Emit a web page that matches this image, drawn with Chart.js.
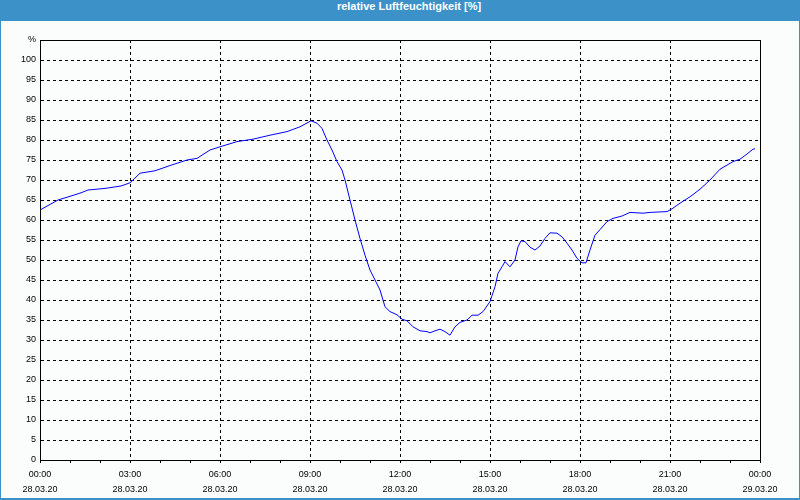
<!DOCTYPE html>
<html>
<head>
<meta charset="utf-8">
<script src="https://cdn.jsdelivr.net/npm/chart.js@4"></script>
<style>
  body { margin: 0; background: #fff; }
  #frame {
    position: relative; width: 800px; height: 500px; box-sizing: border-box;
    border: 1px solid #3c91c8; border-top: none; border-bottom-width: 2px;
    background: #fbfdfc; overflow: hidden;
  }
  #titel {
    height: 21px; line-height: 20px; background: #3c91c8; color: #fff;
    font: bold 11px "Liberation Sans", Arial, sans-serif; text-align: center;
    padding-left: 18px;
  }
  #wrap { position: absolute; left: 0; top: 21px; width: 798px; height: 477px; }
</style>
</head>
<body>
<div id="frame">
  <div id="titel">relative Luftfeuchtigkeit [%]</div>
  <div id="wrap"><canvas id="feuchteChart" width="798" height="477"></canvas></div>
</div>
<script>
// Minuten seit 28.03.20 00:00
const minuten = [0, 36, 62, 82, 96, 130, 162, 180, 186, 200, 230, 262, 294, 314, 340, 360, 394, 426, 460, 494, 520, 542, 554, 564, 574, 584, 594, 604, 610, 620, 630, 640, 650, 660, 670, 680, 690, 700, 714, 724, 734, 746, 760, 774, 780, 790, 800, 810, 820, 830, 840, 854, 864, 876, 886, 900, 910, 916, 924, 930, 940, 950, 956, 962, 970, 980, 990, 1000, 1010, 1020, 1034, 1044, 1054, 1064, 1074, 1084, 1092, 1100, 1110, 1120, 1134, 1146, 1164, 1180, 1206, 1220, 1254, 1264, 1280, 1300, 1320, 1340, 1360, 1386, 1400, 1414, 1426, 1430];
// relative Luftfeuchtigkeit in %
const feuchte = [62.5, 65, 66, 66.8, 67.5, 67.9, 68.5, 69.3, 70.0, 71.7, 72.3, 73.7, 75, 75.4, 77.5, 78.3, 79.6, 80.2, 81.2, 82.1, 83.3, 84.8, 84.2, 82.9, 80, 77.5, 74.6, 72.5, 70, 65, 60, 55.4, 51.2, 47.5, 45, 42.5, 38.3, 37.1, 36.3, 35.2, 34.8, 33.3, 32.3, 32.1, 31.8, 32.3, 32.7, 32.1, 31.2, 33.3, 34.4, 35, 36.2, 36.2, 37.1, 39.6, 43.3, 46.7, 48.3, 49.6, 48.3, 50, 53.3, 54.8, 54.6, 53.2, 52.5, 53.5, 55.4, 56.8, 56.7, 55.8, 54.2, 52.5, 50.4, 49.3, 49.3, 52.5, 56.2, 57.6, 59.6, 60.4, 61, 61.9, 61.7, 61.9, 62.1, 62.8, 64.2, 65.8, 67.7, 70, 72.7, 74.6, 75.2, 76.5, 77.7, 77.8];

const zeitLabels = ["00:00", "03:00", "06:00", "09:00", "12:00", "15:00", "18:00", "21:00", "00:00"];
const datumLabels = ["28.03.20", "28.03.20", "28.03.20", "28.03.20", "28.03.20", "28.03.20", "28.03.20", "28.03.20", "29.03.20"];

const schrift = { family: "Liberation Sans, Arial, sans-serif", size: 9 };

const rahmen = {
  id: 'rahmen',
  afterDraw(chart) {
    const a = chart.chartArea;
    const c = chart.ctx;
    c.save();
    c.strokeStyle = '#000';
    c.lineWidth = 1;
    c.strokeRect(Math.round(a.left) + 0.5, Math.round(a.top) + 0.5,
                 Math.round(a.right - a.left), Math.round(a.bottom - a.top));
    c.restore();
  }
};

const daten = minuten.map((m, i) => ({ x: m, y: feuchte[i] }));

new Chart(document.getElementById('feuchteChart'), {
  type: 'line',
  data: {
    datasets: [{
      data: daten,
      borderColor: '#0000ff',
      borderWidth: 1,
      pointRadius: 0,
      tension: 0
    }]
  },
  options: {
    responsive: false,
    animation: false,
    layout: { padding: { left: 0, right: 39, top: 19, bottom: 0 } },
    plugins: { legend: { display: false }, tooltip: { enabled: false } },
    scales: {
      x: {
        type: 'linear',
        min: 0,
        max: 1440,
        afterFit(s) { s.height = 38; },
        ticks: {
          stepSize: 60,
          autoSkip: false,
          maxRotation: 0,
          padding: 4,
          color: '#000',
          font: Object.assign({ lineHeight: 1.67 }, schrift),
          callback(v) {
            if (v % 180 !== 0) return '';
            const i = v / 180;
            return [zeitLabels[i], datumLabels[i]];
          }
        },
        grid: {
          color: c => (c.tick && c.tick.value % 180 === 0) ? '#000' : 'rgba(0,0,0,0)',
          tickColor: '#000',
          tickLength: 3,
          lineWidth: 1
        },
        border: { color: '#000', dash: [3, 3] }
      },
      y: {
        min: 0,
        max: 105,
        afterFit(s) { s.width = 39; },
        ticks: {
          stepSize: 5,
          padding: 4,
          color: '#000',
          font: schrift,
          callback: v => v === 105 ? '%' : v
        },
        grid: { color: '#000', drawTicks: false, lineWidth: 1 },
        border: { color: '#000', dash: [3, 3] }
      }
    }
  },
  plugins: [rahmen]
});
</script>
</body>
</html>
